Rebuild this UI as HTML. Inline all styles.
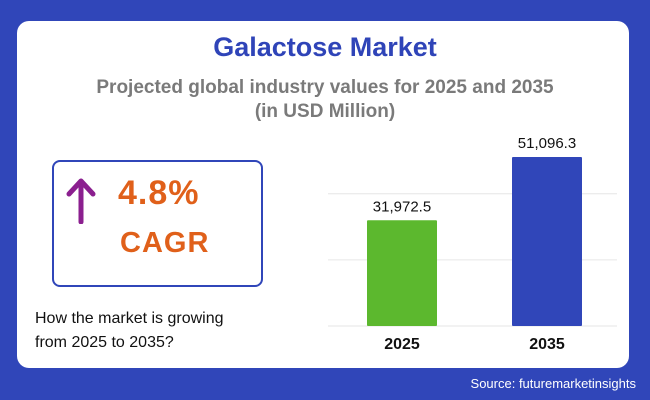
<!DOCTYPE html>
<html><head><meta charset="utf-8"><style>
body{margin:0;width:650px;height:400px;background:#3046b9;font-family:"Liberation Sans",sans-serif;position:relative;overflow:hidden}
.card{position:absolute;left:17px;top:21px;width:612px;height:347px;background:#fff;border-radius:12px}
.t{position:absolute;width:100%;text-align:center}
</style></head><body>
<div class="card"></div>
<div class="t" style="top:32px;font-size:27px;font-weight:bold;color:#2f44b8;left:0">Galactose Market</div>
<div class="t" style="top:76px;font-size:19px;font-weight:bold;color:#7a7a7a;line-height:24px;left:0">Projected global industry values for 2025 and 2035<br>(in USD Million)</div>
<div style="position:absolute;left:52px;top:160px;width:207px;height:123px;border:2px solid #3046b9;border-radius:8px"></div>
<svg style="position:absolute;left:64px;top:176px" width="34" height="48"><path d="M17 46V6M5 18L17 5L29 18" stroke="#8b1f8f" stroke-width="5" fill="none" stroke-linecap="round" stroke-linejoin="round"/></svg>
<div style="position:absolute;left:118px;top:174px;font-size:34px;font-weight:bold;color:#e0601a;letter-spacing:1px">4.8%</div>
<div style="position:absolute;left:120px;top:227px;font-size:29px;font-weight:bold;color:#e0601a;letter-spacing:1px">CAGR</div>
<div style="position:absolute;left:35px;top:307px;font-size:16px;line-height:24px;color:#111">How the market is growing<br>from 2025 to 2035?</div>
<svg id="chart" style="position:absolute;left:0;top:0" width="650" height="400"></svg>
<div style="position:absolute;right:14px;top:376px;font-size:13px;color:#fff">Source: futuremarketinsights</div>
<script>
const categories=["2025","2035"];
const values=[31972.5,51096.3];
const labels=["31,972.5","51,096.3"];
const gridTicks=[0,20000,40000];
const colors=["#5cb82e","#3046b9"];
const svg=document.getElementById('chart');const NS='http://www.w3.org/2000/svg';
const y=v=>326-v*169/51096.3;
const x=i=>367+i*145;
function mk(t,a){const e=document.createElementNS(NS,t);for(const k in a)e.setAttribute(k,a[k]);svg.appendChild(e);return e;}
gridTicks.forEach(g=>{const l=mk('line',{x1:328,x2:617,y1:y(g),y2:y(g),stroke:'#e6e6e6','stroke-width':1});

});
categories.forEach((c,i)=>{
const r=mk('rect',{x:x(i),y:y(values[i]),width:70,height:326-y(values[i]),fill:colors[i],rx:1});


const t=mk('text',{x:x(i)+35,y:y(values[i])-9,'text-anchor':'middle','font-size':15,fill:'#111','font-family':'Liberation Sans'});t.textContent=labels[i];


const a=mk('text',{x:x(i)+35,y:349,'text-anchor':'middle','font-size':16,'font-weight':'bold',fill:'#111','font-family':'Liberation Sans'});a.textContent=c;


});
</script>
</body></html>
